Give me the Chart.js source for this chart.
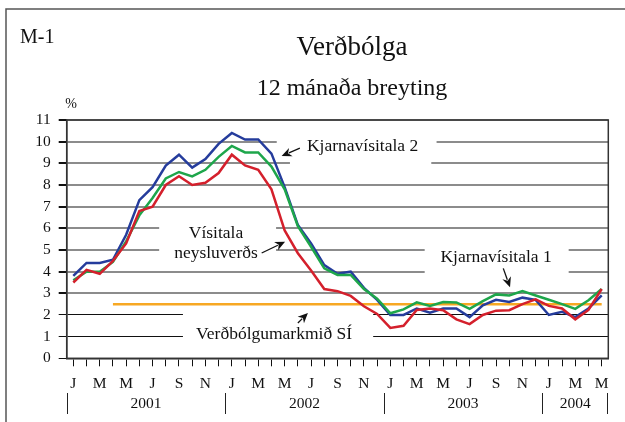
<!DOCTYPE html>
<html>
<head>
<meta charset="utf-8">
<script src="https://cdn.jsdelivr.net/npm/chart.js@4.4.1/dist/chart.umd.min.js"></script>
<style>
  body { margin: 0; background: #fff; }
  #wrap { position: relative; width: 625px; height: 422px; }
</style>
</head>
<body>
<div id="wrap"><canvas id="chart" width="625" height="422"></canvas></div>
<script>
// months Jan 2001 - May 2004
const months = [
  "J","F","M","A","M","J","J","Á","S","O","N","D",
  "J","F","M","A","M","J","J","Á","S","O","N","D",
  "J","F","M","A","M","J","J","Á","S","O","N","D",
  "J","F","M","A","M"
];
const years = ["2001", "2002", "2003", "2004"];

// Kjarnavísitala 2 (blue)
const core2 = [3.8, 4.4, 4.4, 4.55, 5.7, 7.3, 7.9, 8.9, 9.4, 8.8, 9.2, 9.9,
  10.4, 10.1, 10.1, 9.45, 7.9, 6.15, 5.3, 4.3, 3.9, 4.0, 3.25, 2.7,
  2.0, 2.0, 2.3, 2.1, 2.3, 2.3, 1.9, 2.45, 2.7, 2.6, 2.8, 2.7,
  2.0, 2.15, 1.9, 2.3, 2.9];
// Kjarnavísitala 1 (green)
const core1 = [3.6, 4.0, 4.0, 4.45, 5.4, 6.6, 7.4, 8.3, 8.6, 8.4, 8.7, 9.3,
  9.8, 9.5, 9.5, 8.85, 7.8, 6.1, 5.15, 4.15, 3.85, 3.85, 3.2, 2.75,
  2.08, 2.26, 2.58, 2.42, 2.6, 2.58, 2.28, 2.64, 2.95, 2.9, 3.1, 2.9,
  2.7, 2.5, 2.28, 2.68, 3.2];
// Vísitala neysluverðs (red)
const cpi = [3.5, 4.08, 3.9, 4.5, 5.3, 6.8, 7.0, 8.0, 8.4, 8.0, 8.1, 8.55,
  9.4, 8.9, 8.7, 7.8, 5.9, 4.85, 4.05, 3.2, 3.1, 2.88, 2.4, 2.05,
  1.4, 1.5, 2.23, 2.3, 2.22, 1.8, 1.58, 2.0, 2.2, 2.22, 2.5, 2.72,
  2.42, 2.3, 1.8, 2.23, 3.2];
// Verðbólgumarkmið SÍ (orange)
const target = [null, null, null, 2.5, 2.5, 2.5, 2.5, 2.5, 2.5, 2.5, 2.5, 2.5,
  2.5, 2.5, 2.5, 2.5, 2.5, 2.5, 2.5, 2.5, 2.5, 2.5, 2.5, 2.5,
  2.5, 2.5, 2.5, 2.5, 2.5, 2.5, 2.5, 2.5, 2.5, 2.5, 2.5, 2.5,
  2.5, 2.5, 2.5, 2.5, 2.5];

const FONT = "'Liberation Serif', 'Times New Roman', serif";

// where the text boxes break the gridlines: [value, from index, to index]
const gridGaps = [
  [10, 15.4, 27.5], [9, 16.4, 27.1],
  [6, 6.5, 15.35], [5, 6.5, 15.35],
  [5, 26.6, 37.5], [4, 26.6, 37.5],
  [2, 8.3, 22.7], [1, 8.3, 22.7]
];
// labels in the plot, placed in data units (index, value)
const notes = [
  { text: "Kjarnavísitala 2", i: 21.9, v: 9.77 },
  { text: "Vísitala", i: 10.8, v: 5.77 },
  { text: "neysluverðs", i: 10.8, v: 4.85 },
  { text: "Kjarnavísitala 1", i: 32.0, v: 4.65 },
  { text: "Verðbólgumarkmið SÍ", i: 15.2, v: 1.12 }
];
const arrows = [
  { from: [17.15, 9.7], to: [15.77, 9.34] },
  { from: [14.26, 4.86], to: [16.03, 5.38] },
  { from: [32.55, 4.15], to: [33.06, 3.28] },
  { from: [17.0, 1.63], to: [17.76, 2.09] }
];

function drawArrow(ctx, x1, y1, x2, y2) {
  var a = Math.atan2(y2 - y1, x2 - x1);
  var hl = 10, hw = 4.5;
  ctx.beginPath();
  ctx.moveTo(x1, y1);
  ctx.lineTo(x2 - Math.cos(a) * hl * 0.8, y2 - Math.sin(a) * hl * 0.8);
  ctx.stroke();
  ctx.beginPath();
  ctx.moveTo(x2, y2);
  ctx.lineTo(x2 - Math.cos(a) * hl + Math.sin(a) * hw, y2 - Math.sin(a) * hl - Math.cos(a) * hw);
  ctx.lineTo(x2 - Math.cos(a) * hl * 0.7, y2 - Math.sin(a) * hl * 0.7);
  ctx.lineTo(x2 - Math.cos(a) * hl - Math.sin(a) * hw, y2 - Math.sin(a) * hl + Math.cos(a) * hw);
  ctx.closePath();
  ctx.fill();
}

const decor = {
  id: "decor",
  beforeDatasetsDraw(chart) {
    const ctx = chart.ctx, x = chart.scales.x, y = chart.scales.y;
    ctx.save();
    ctx.strokeStyle = "#fff";
    ctx.lineWidth = 4;
    gridGaps.forEach(function (g) {
      ctx.beginPath();
      ctx.moveTo(x.getPixelForValue(g[1]), y.getPixelForValue(g[0]));
      ctx.lineTo(x.getPixelForValue(g[2]), y.getPixelForValue(g[0]));
      ctx.stroke();
    });
    ctx.restore();
  },
  afterDraw(chart) {
    const ctx = chart.ctx, x = chart.scales.x, y = chart.scales.y;
    const area = chart.chartArea;
    ctx.save();
    // plot frame
    ctx.strokeStyle = "#333";
    ctx.lineWidth = 1.5;
    ctx.strokeRect(area.left, area.top, area.right - area.left, area.bottom - area.top);
    // outer frame
    ctx.strokeStyle = "#555";
    ctx.beginPath();
    ctx.moveTo(6, 422);
    ctx.lineTo(6, 9);
    ctx.lineTo(625, 9);
    ctx.stroke();

    ctx.fillStyle = "#111";
    ctx.textBaseline = "middle";
    ctx.textAlign = "left";
    ctx.font = "20px " + FONT;
    ctx.fillText("M-1", 20, 38);
    ctx.textAlign = "center";
    ctx.font = "27px " + FONT;
    ctx.fillText("Verðbólga", 352, 48);
    ctx.font = "24px " + FONT;
    ctx.fillText("12 mánaða breyting", 352, 89);
    ctx.font = "14px " + FONT;
    ctx.fillText("%", 71, 104);

    // notes and arrows
    ctx.font = "17.5px " + FONT;
    notes.forEach(function (n) {
      ctx.fillText(n.text, x.getPixelForValue(n.i), y.getPixelForValue(n.v));
    });
    ctx.strokeStyle = "#111";
    ctx.lineWidth = 1.3;
    arrows.forEach(function (a) {
      drawArrow(ctx, x.getPixelForValue(a.from[0]), y.getPixelForValue(a.from[1]),
        x.getPixelForValue(a.to[0]), y.getPixelForValue(a.to[1]));
    });

    // year row
    const band = x.getPixelForValue(1) - x.getPixelForValue(0);
    ctx.font = "15.5px " + FONT;
    ctx.lineWidth = 1;
    ctx.strokeStyle = "#222";
    years.forEach(function (yr, k) {
      var first = k * 12, last = Math.min(k * 12 + 11, months.length - 1);
      var l = x.getPixelForValue(first) - band / 2;
      var r = x.getPixelForValue(last) + band / 2;
      ctx.fillText(yr, (l + r) / 2, 404);
      ctx.beginPath();
      ctx.moveTo(Math.round(l) + 0.5, 393);
      ctx.lineTo(Math.round(l) + 0.5, 414);
      if (k == years.length - 1) {
        ctx.moveTo(Math.round(r) - 0.5, 393);
        ctx.lineTo(Math.round(r) - 0.5, 414);
      }
      ctx.stroke();
    });
    ctx.restore();
  }
};

new Chart(document.getElementById("chart"), {
  type: "line",
  data: {
    labels: months,
    datasets: [
      { label: "Vísitala neysluverðs", data: cpi, borderColor: "#d4202c", borderWidth: 2.5 },
      { label: "Kjarnavísitala 1", data: core1, borderColor: "#1ea64b", borderWidth: 2.5 },
      { label: "Kjarnavísitala 2", data: core2, borderColor: "#253c9c", borderWidth: 2.5 },
      { label: "Verðbólgumarkmið SÍ", data: target, borderColor: "#f7a823", borderWidth: 2.5 }
    ]
  },
  options: {
    responsive: false,
    animation: false,
    layout: { padding: { top: 120, right: 16.7, left: 0, bottom: 0 } },
    elements: { point: { radius: 0 }, line: { tension: 0 } },
    plugins: { legend: { display: false }, tooltip: { enabled: false } },
    scales: {
      x: {
        offset: true,
        afterFit: function (s) { s.height = 63.7; },
        grid: { drawOnChartArea: false, drawTicks: true, tickLength: 8, tickColor: "#111", offset: false },
        border: { display: true, color: "#333", width: 1.5 },
        ticks: {
          autoSkip: false, maxRotation: 0, padding: 8, color: "#111",
          font: { family: FONT, size: 15.5 },
          callback: function (val, idx) { return idx % 2 == 0 ? months[idx] : ""; }
        }
      },
      y: {
        min: 0, max: 11,
        afterFit: function (s) { s.width = 66.7; },
        grid: {
          tickLength: 8, tickColor: "#111",
          color: function (c) { return c.tick.value >= 3 ? "#8c8c8c" : "#111"; },
          lineWidth: function (c) { return c.tick.value >= 3 ? 2 : 1; }
        },
        border: { display: true, color: "#333", width: 1.5 },
        ticks: { stepSize: 1, padding: 8, color: "#111", font: { family: FONT, size: 15.5 } }
      }
    }
  },
  plugins: [decor]
});
</script>
</body>
</html>
